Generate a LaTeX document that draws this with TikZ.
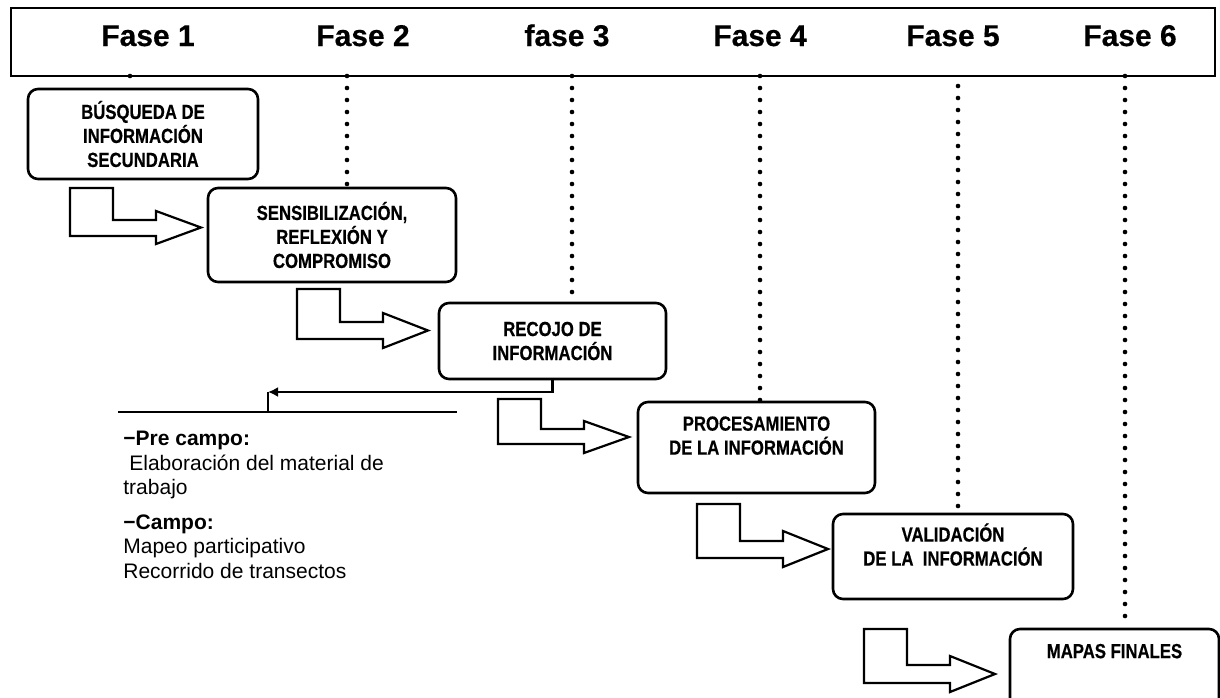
\documentclass[tikz,border=0pt]{standalone}
\usepackage{fontspec}
\setmainfont{Liberation Sans}
\newfontfamily\cajafont[FakeStretch=0.82,BoldFeatures={FakeBold=0.5}]{Liberation Sans}
\newfontfamily\fasefont[BoldFeatures={FakeBold=0.4}]{Liberation Sans}
\usetikzlibrary{arrows.meta,positioning}

\begin{document}
\begin{tikzpicture}[x=0.5pt,y=-0.5pt,line join=miter]
    \tikzstyle{caja}=[draw,rounded corners=5pt,line width=1.3pt,align=center,inner sep=0pt,font=\cajafont\bfseries\fontsize{10.2}{12}\selectfont]
    \tikzstyle{fase}=[anchor=base,font=\fasefont\bfseries\fontsize{15}{18}\selectfont]
    \tikzstyle{punteado}=[line width=2.3pt,line cap=round,dash pattern=on 0pt off 6pt]
    \tikzstyle{flecha}=[line width=1.1pt,fill=white]
    \tikzstyle{notas}=[anchor=north west,align=left,inner sep=0pt,font=\fontsize{10.5}{12.25}\selectfont]

    \clip (0,0) rectangle (1220,697);

    % Draw the phase bar and its labels
    \node[draw,line width=1.3pt,minimum width=602pt,minimum height=34pt,inner sep=0pt] (barra) at (613,42) {};
    \foreach \name / \x / \txt in {1/148/Fase 1,2/363/Fase 2,3/567/fase 3,4/760/Fase 4,5/953/Fase 5,6/1130/Fase 6}
        \node[fase] (F-\name) at (\x,46) {\txt};

    % Draw the step boxes
    \node[caja,minimum width=115pt,minimum height=45pt] (C-1) at (143,134) {BÚSQUEDA DE\\INFORMACIÓN\\SECUNDARIA};
    \node[caja,minimum width=124pt,minimum height=47pt] (C-2) at (332,235) {SENSIBILIZACIÓN,\\REFLEXIÓN Y\\COMPROMISO};
    \node[caja,minimum width=113.5pt,minimum height=38pt] (C-3) at (552.5,341) {RECOJO DE\\INFORMACIÓN};
    \node[caja,minimum width=118.5pt,minimum height=45.5pt] (C-4) at (756.5,447.5) {PROCESAMIENTO\\DE LA INFORMACIÓN\\\mbox{}};
    \node[caja,minimum width=120pt,minimum height=42.5pt] (C-5) at (953,556.5) {VALIDACIÓN\\DE LA~~INFORMACIÓN\\\mbox{}};
    \node[caja,minimum width=104.5pt,minimum height=46pt] (C-6) at (1114.5,675) {MAPAS FINALES\\\mbox{}\\\mbox{}};

    % Connect the phase bar with every box
    \foreach \name / \x / \y in {1/130/76,2/347/76,3/572/76,4/760/76,5/958/86,6/1125/76}
    {
        \coordinate (P-\name) at (\x,\y);
        \draw[punteado] (P-\name) -- (P-\name |- C-\name.north);
    }

    % Block arrows between the steps
    \foreach \x / \y / \a / \b / \c / \d in {70/188/32/48/23/56,297/289/33/50/24/59,498/399/30/45/22/54,697/504/37/54/27/63,864/629/36/54/27/63}
        \draw[flecha,shift={(\x,\y)}] (0,0) -- (43,0) -- (43,\a) -- (86,\a) -- (86,\c) -- (131,{(\c+\d)/2}) -- (86,\d) -- (86,\b) -- (0,\b) -- cycle;

    % Field work notes
    \coordinate (retorno) at (268,392);
    \coordinate (linea-izq) at (118,412);
    \coordinate (linea-der) at (457,412);
    \draw[line width=1.1pt,-{Latex[length=5pt,width=5pt]}] (C-3.south) |- (retorno);
    \draw[line width=1.1pt] (retorno) -- (retorno |- linea-izq);
    \draw[line width=1.3pt] (linea-izq) -- (linea-der);
    \node[notas] (notas) at (123,431) {\textbf{−Pre campo:}\\\hspace*{3pt}Elaboración del material de\\trabajo\\[5pt]\textbf{−Campo:}\\Mapeo participativo\\Recorrido de transectos};
\end{tikzpicture}
\end{document}
